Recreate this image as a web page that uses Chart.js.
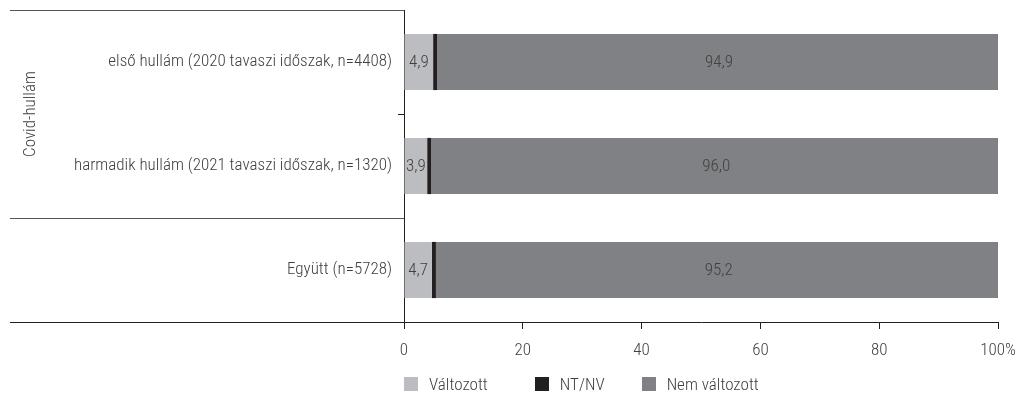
<!DOCTYPE html>
<html>
<head>
<meta charset="utf-8">
<script src="https://cdn.jsdelivr.net/npm/chart.js@4.4.1/dist/chart.umd.min.js"></script>
<style>
  html, body { margin: 0; padding: 0; background: #ffffff; }
  #wrap { position: relative; width: 1024px; height: 401px; }
  #legend {
    position: absolute; left: 404px; top: 374px;
    display: flex; align-items: center;
    font-family: "Roboto Condensed", "DejaVu Sans Condensed", sans-serif;
    font-weight: 300;
    font-size: 17px; color: #404040;
  }
  .lg-item { display: flex; align-items: center; }
  .lg-box { width: 14px; height: 14px; margin-right: 11px; }
</style>
</head>
<body>
<div id="wrap">
  <canvas id="chart" width="1024" height="401"></canvas>
  <div id="legend"></div>
</div>
<script>
const CATEGORIES = [
  "első hullám (2020 tavaszi időszak, n=4408)",
  "harmadik hullám (2021 tavaszi időszak, n=1320)",
  "Együtt (n=5728)"
];
const GROUP_LABEL = "Covid-hullám";
const SERIES_NAMES = ["Változott", "NT/NV", "Nem változott"];
const VALTOZOTT = [4.9, 3.9, 4.7];
const NT_NV = [0.2, 0.1, 0.1];
const NEM_VALTOZOTT = [94.9, 96.0, 95.2];
const X_TICKS = [0, 20, 40, 60, 80, 100];

const COLORS = ["#bcbdc0", "#231f20", "#808184"];
const TEXT = "#404040";
const AXIS = "#231f20";
const FONT = '"Roboto Condensed", "DejaVu Sans Condensed", sans-serif';
const LEGEND_GAPS = [47, 37, 0];

function fmtDec(value) {
  return Number(value).toFixed(1).replace(".", ",");
}

// value labels inside the light and dark grey segments
const barLabels = {
  id: "barLabels",
  afterDatasetsDraw(chart) {
    const { ctx } = chart;
    ctx.save();
    ctx.font = `300 17px ${FONT}`;
    ctx.fillStyle = TEXT;
    ctx.textAlign = "center";
    ctx.textBaseline = "middle";
    [0, 2].forEach((dsIndex) => {
      const meta = chart.getDatasetMeta(dsIndex);
      meta.data.forEach((bar, i) => {
        const value = chart.data.datasets[dsIndex].data[i];
        const cx = (bar.x + bar.base) / 2;
        ctx.fillText(fmtDec(value), cx, bar.y + 1);
      });
    });
    ctx.restore();
  }
};

// frame lines on the left and rotated group title
const frameLines = {
  id: "frameLines",
  afterDraw(chart) {
    const { ctx, chartArea: area, scales } = chart;
    const y = scales.y;
    const left = 10;
    const groupBottom = (y.getPixelForValue(1) + y.getPixelForValue(2)) / 2;
    ctx.save();
    ctx.lineWidth = 1;
    ctx.strokeStyle = "#555555";
    ctx.beginPath();
    [area.top, groupBottom].forEach((py) => {
      const yy = Math.round(py) + 0.5;
      ctx.moveTo(left, yy);
      ctx.lineTo(area.left, yy);
    });
    ctx.stroke();
    ctx.strokeStyle = AXIS;
    ctx.beginPath();
    const yb = Math.round(area.bottom) + 0.5;
    ctx.moveTo(left, yb);
    ctx.lineTo(area.left, yb);
    ctx.stroke();

    ctx.translate(31, (area.top + groupBottom) / 2);
    ctx.rotate(-Math.PI / 2);
    ctx.font = `300 17px ${FONT}`;
    ctx.fillStyle = TEXT;
    ctx.textAlign = "center";
    ctx.textBaseline = "middle";
    ctx.fillText(GROUP_LABEL, 0, 0);
    ctx.restore();
  }
};

const seriesValues = [VALTOZOTT, NT_NV, NEM_VALTOZOTT];

new Chart(document.getElementById("chart"), {
  type: "bar",
  data: {
    labels: CATEGORIES,
    datasets: SERIES_NAMES.map((name, i) => ({
      label: name,
      data: seriesValues[i],
      backgroundColor: COLORS[i],
      borderWidth: 0,
      barPercentage: 0.54,
      categoryPercentage: 1,
      minBarLength: i === 1 ? 4 : 0
    }))
  },
  options: {
    indexAxis: "y",
    responsive: false,
    animation: false,
    layout: { padding: { left: 10, right: 26, top: 10, bottom: 39 } },
    plugins: {
      legend: { display: false },
      tooltip: { enabled: false }
    },
    scales: {
      x: {
        stacked: true,
        min: 0,
        max: 100,
        afterBuildTicks(scale) {
          scale.ticks = X_TICKS.map((v) => ({ value: v }));
        },
        afterFit(scale) {
          scale.height = 40;
          scale.paddingLeft = 0;
          scale.paddingRight = 0;
        },
        border: { display: true, color: AXIS, width: 1 },
        grid: { drawOnChartArea: false, drawTicks: true, tickLength: 7, color: AXIS },
        ticks: {
          color: TEXT,
          padding: 12,
          font: { family: FONT, size: 17, weight: 300 },
          callback: (v) => (v === 100 ? "100%" : String(v))
        }
      },
      y: {
        stacked: true,
        afterFit(scale) {
          scale.width = 394;
          scale.paddingTop = 0;
          scale.paddingBottom = 0;
        },
        border: { display: true, color: AXIS, width: 1 },
        grid: { drawOnChartArea: false, drawTicks: true, tickLength: 6, color: AXIS, offset: true },
        ticks: {
          color: TEXT,
          padding: 6,
          font: { family: FONT, size: 17, weight: 300 }
        }
      }
    }
  },
  plugins: [barLabels, frameLines]
});

document.getElementById("legend").innerHTML = SERIES_NAMES
  .map((name, i) => `<div class="lg-item" style="margin-right:${LEGEND_GAPS[i]}px"><span class="lg-box" style="background:${COLORS[i]}"></span>${name}</div>`)
  .join("");
</script>
</body>
</html>
